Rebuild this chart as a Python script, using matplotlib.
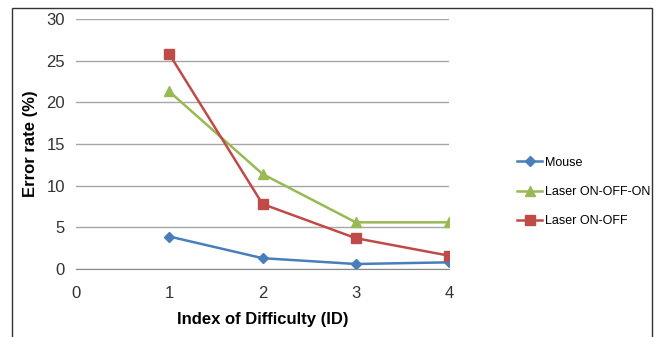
import matplotlib
matplotlib.use("Agg")
import matplotlib.pyplot as plt
from matplotlib.patches import Rectangle

plt.rcParams['font.family'] = ['Liberation Sans', 'DejaVu Sans']

ids = [1, 2, 3, 4]
mouse = [3.9, 1.3, 0.6, 0.8]
laser_on_off_on = [21.3, 11.4, 5.6, 5.6]
laser_on_off = [25.8, 7.8, 3.7, 1.6]

x_ticks = [0, 1, 2, 3, 4]
y_ticks = [0, 5, 10, 15, 20, 25, 30]

fig = plt.figure(figsize=(6.57, 3.37), dpi=100)
fig.patch.set_facecolor('white')

# outer chart border
fig.add_artist(Rectangle((12 / 657, -0.05), 640 / 657, 1 - 8 / 337 + 0.05,
                         transform=fig.transFigure, fill=False,
                         edgecolor='#333333', linewidth=1.0))

ax = fig.add_axes([76 / 657, 68 / 337, 373 / 657, 250 / 337])
ax.set_xlim(0, 4)
ax.set_ylim(0, 30)
ax.set_xticks(x_ticks)
ax.set_yticks(y_ticks)
ax.tick_params(length=0, labelsize=12, colors='#333333', pad=8)
ax.tick_params(axis='x', pad=12)
ax.grid(axis='y', color='#a6a6a6', linewidth=1.0)
ax.set_axisbelow(True)
for s in ['top', 'right', 'left']:
    ax.spines[s].set_visible(False)
ax.spines['bottom'].set_color('#888888')

ax.plot(ids, mouse, color='#4a7ebb', marker='D', markersize=5, linewidth=1.8, label='Mouse')
ax.plot(ids, laser_on_off_on, color='#98b954', marker='^', markersize=7, linewidth=1.8,
        label='Laser ON-OFF-ON')
ax.plot(ids, laser_on_off, color='#be4b48', marker='s', markersize=7, linewidth=1.8,
        label='Laser ON-OFF')

ax.set_xlabel('Index of Difficulty (ID)', fontsize=12, fontweight='bold', labelpad=8)
ax.set_ylabel('Error rate (%)', fontsize=12, fontweight='bold', labelpad=6)

leg = fig.legend(loc='center left', bbox_to_anchor=(506 / 657, 1 - 192 / 337),
                 frameon=False, fontsize=9, handlelength=2.0, labelspacing=1.4,
                 handletextpad=0.2)

fig.savefig('out.png', dpi=100)
